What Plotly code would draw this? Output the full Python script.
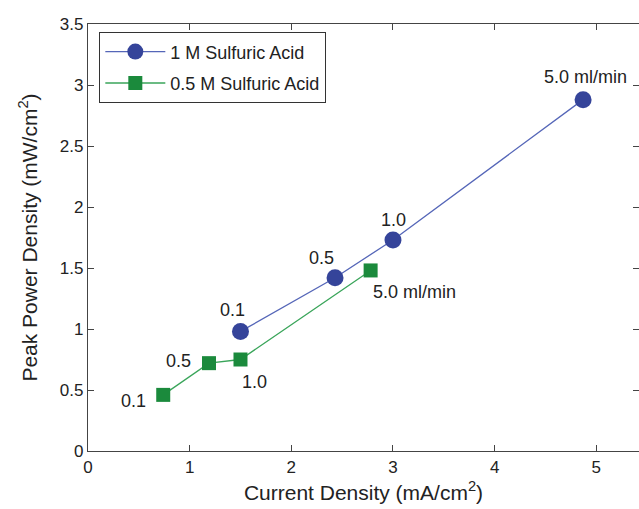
import plotly.graph_objects as go

x_1m = [1.50, 2.43, 3.00, 4.87]
y_1m = [0.98, 1.42, 1.73, 2.88]
lab_1m = ["0.1", "0.5", "1.0", "5.0 ml/min"]

x_05m = [0.74, 1.19, 1.50, 2.78]
y_05m = [0.46, 0.72, 0.75, 1.48]
lab_05m = ["0.1", "0.5", "1.0", "5.0 ml/min"]

blue = "#35449a"
blue_line = "#5566b8"
green = "#1b8a3c"
green_line = "#3aa55a"
font_fam = "Liberation Sans, Arial, sans-serif"

fig = go.Figure()
fig.add_trace(go.Scatter(x=x_1m, y=y_1m, mode="lines+markers", name="1 M Sulfuric Acid",
                         legendgroup="a",
                         line=dict(color=blue_line, width=1.3),
                         marker=dict(symbol="circle", size=17, color=blue)))
fig.add_trace(go.Scatter(x=x_05m, y=y_05m, mode="lines+markers", name="0.5 M Sulfuric Acid",
                         legendgroup="b",
                         line=dict(color=green_line, width=1.3),
                         marker=dict(symbol="square", size=14, color=green)))

shift_1m = [(-8, 21), (-14, 20), (1, 20), (2, 23)]
shift_05m = [(-30, -6), (-30, 2), (14, -22), (44, -22)]
for xs, ys, labs, shifts in [(x_1m, y_1m, lab_1m, shift_1m), (x_05m, y_05m, lab_05m, shift_05m)]:
    for xv, yv, t, (dx, dy) in zip(xs, ys, labs, shifts):
        fig.add_annotation(x=xv, y=yv, text=t, showarrow=False, xshift=dx, yshift=dy,
                           font=dict(size=18, color="#222", family=font_fam))

axis_common = dict(showline=True, linecolor="#444", linewidth=1.3, mirror="ticks",
                   ticks="inside", ticklen=6, tickcolor="#444", showgrid=False, zeroline=False,
                   automargin=False,
                   tickfont=dict(size=17, color="#222", family=font_fam))
fig.update_xaxes(range=[0, 5.42], dtick=1, tick0=0,
                 title=dict(text="Current Density (mA/cm<sup>2</sup>)", standoff=9,
                            font=dict(size=21, color="#222", family=font_fam)),
                 **axis_common)
fig.update_yaxes(range=[0, 3.5], dtick=0.5, tick0=0,
                 title=dict(text="Peak Power Density (mW/cm<sup>2</sup>)", standoff=16,
                            font=dict(size=21, color="#222", family=font_fam)),
                 **axis_common)

fig.update_layout(width=639, height=509, margin=dict(l=88, r=0, t=24, b=58),
                  plot_bgcolor="white", paper_bgcolor="white",
                  legend=dict(x=0.02, y=0.981, xanchor="left", yanchor="top",
                              bordercolor="#333", borderwidth=1.3, bgcolor="white",
                              font=dict(size=18, color="#222", family=font_fam),
                              traceorder="grouped", tracegroupgap=5,
                              itemwidth=60))
fig.write_html("out.html", config={"displayModeBar": False},
               post_script="document.body.style.margin='0';document.body.style.overflow='hidden';")
